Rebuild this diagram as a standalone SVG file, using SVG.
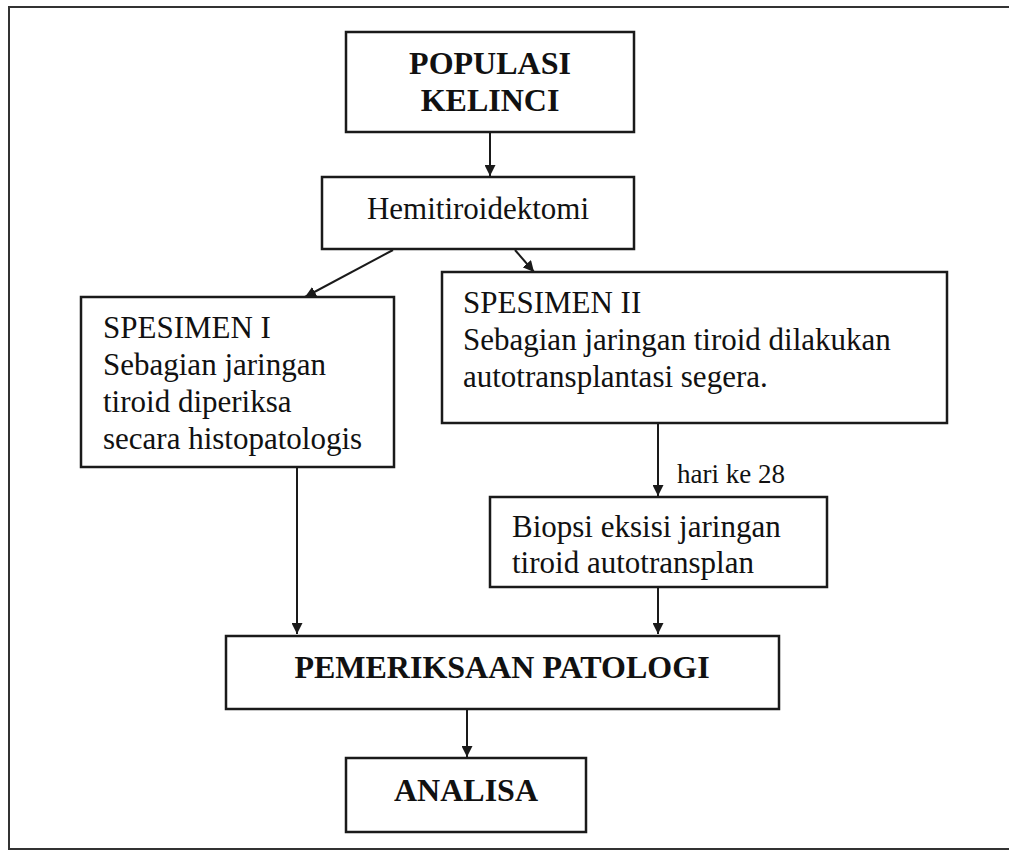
<svg xmlns="http://www.w3.org/2000/svg" width="1009" height="851" viewBox="0 0 1009 851">
<defs>
<style>
.box{fill:#fff;stroke:#1a1a1a;stroke-width:2.5}
.t{font-family:"Liberation Serif","Times New Roman",serif;font-size:31px;fill:#111}
.b{font-family:"Liberation Serif","Times New Roman",serif;font-size:32px;font-weight:bold;fill:#111}
.s{font-family:"Liberation Serif","Times New Roman",serif;font-size:27px;fill:#111}
.c{fill:none;stroke:#1a1a1a;stroke-width:2}
</style>
<marker id="ah" viewBox="0 0 10 10" refX="10" refY="5" markerWidth="11" markerHeight="11" markerUnits="userSpaceOnUse" orient="auto">
<path d="M0,0 L10,5 L0,10 Z" fill="#1a1a1a"/>
</marker>
</defs>
<rect width="1009" height="851" fill="#fff"/>
<path d="M1012,7 H9 V849 H1012" fill="none" stroke="#333" stroke-width="2"/>
<g id="connectors">
<line class="c" x1="490" y1="133" x2="490" y2="176" marker-end="url(#ah)" style="stroke-width:2"/>
<line class="c" x1="393" y1="250" x2="305" y2="297" marker-end="url(#ah)"/>
<line class="c" x1="515" y1="250" x2="534" y2="272" marker-end="url(#ah)"/>
<line class="c" x1="658" y1="424" x2="658" y2="496" marker-end="url(#ah)"/>
<line class="c" x1="297" y1="468" x2="297" y2="634" marker-end="url(#ah)"/>
<line class="c" x1="658" y1="588" x2="658" y2="634" marker-end="url(#ah)"/>
<line class="c" x1="467" y1="710" x2="467" y2="757" marker-end="url(#ah)"/>
<text class="s" x="677" y="483">hari ke 28</text>
</g>
<g id="populasi">
<rect class="box" x="346" y="32" width="288" height="100"/>
<text class="b" x="490" y="74" text-anchor="middle">POPULASI</text>
<text class="b" x="490" y="111" text-anchor="middle">KELINCI</text>
</g>
<g id="hemitiroidektomi">
<rect class="box" x="322" y="177" width="312" height="72"/>
<text class="t" x="478" y="219" text-anchor="middle">Hemitiroidektomi</text>
</g>
<g id="spesimen1">
<rect class="box" x="81" y="297" width="313" height="170"/>
<text class="t" x="103" y="338">SPESIMEN I</text>
<text class="t" x="103" y="375">Sebagian jaringan</text>
<text class="t" x="103" y="412">tiroid diperiksa</text>
<text class="t" x="103" y="449">secara histopatologis</text>
</g>
<g id="spesimen2">
<rect class="box" x="442" y="272" width="505" height="151"/>
<text class="t" x="463" y="313">SPESIMEN II</text>
<text class="t" x="463" y="350">Sebagian jaringan tiroid dilakukan</text>
<text class="t" x="463" y="387">autotransplantasi segera.</text>
</g>
<g id="biopsi">
<rect class="box" x="490" y="497" width="337" height="90"/>
<text class="t" x="512" y="537">Biopsi eksisi jaringan</text>
<text class="t" x="512" y="573">tiroid autotransplan</text>
</g>
<g id="pemeriksaan">
<rect class="box" x="226" y="636" width="553" height="73"/>
<text class="b" x="502" y="678" text-anchor="middle">PEMERIKSAAN PATOLOGI</text>
</g>
<g id="analisa">
<rect class="box" x="346" y="758" width="240" height="74"/>
<text class="b" x="466" y="801" text-anchor="middle">ANALISA</text>
</g>
</svg>
